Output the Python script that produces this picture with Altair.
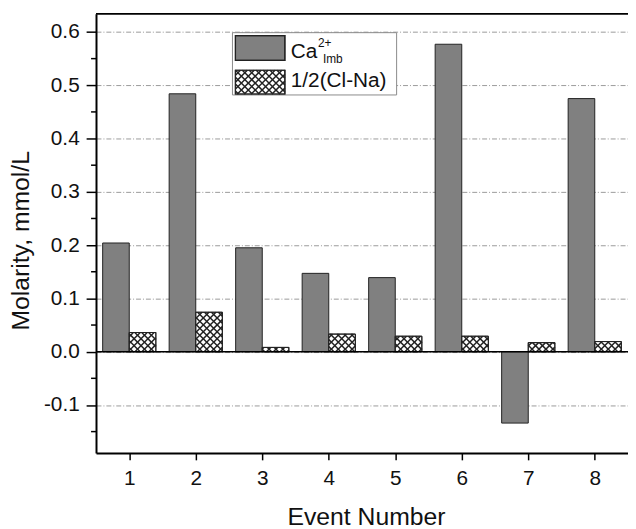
import math
import altair as alt
import pandas as pd

# ---------------- data ----------------
events = [1, 2, 3, 4, 5, 6, 7, 8]
ca_imb = [0.204, 0.484, 0.195, 0.147, 0.139, 0.577, -0.134, 0.475]
half_cl_na = [0.036, 0.074, 0.008, 0.033, 0.029, 0.029, 0.017, 0.019]
y_major = [-0.1, 0.0, 0.1, 0.2, 0.3, 0.4, 0.5, 0.6]
y_minor = [-0.15, -0.05, 0.05, 0.15, 0.25, 0.35, 0.45, 0.55]
series_names = ["Ca2+ Imb", "1/2(Cl-Na)"]

# ---------------- layout ----------------
W, H = 538, 444
X_DOM = [0.5, 8.5]
Y_DOM = [-0.19, 0.634]
BAR_W = 0.4
FONT = "Liberation Sans"
HATCH_P = 7.0

KX = W / (X_DOM[1] - X_DOM[0])
KY = H / (Y_DOM[1] - Y_DOM[0])

# bar table
rows = []
for e, a, b in zip(events, ca_imb, half_cl_na):
    rows.append({"event": e, "series": series_names[0], "x0": e - BAR_W, "x1": e, "v": a})
    rows.append({"event": e, "series": series_names[1], "x0": e, "x1": e + BAR_W, "v": b})
bars = pd.DataFrame(rows)
hatched = bars[bars["series"] == series_names[1]]


def hatch_segments(xa, xb, ya, yb, p=HATCH_P):
    """cross-hatch segments clipped to the pixel rectangle [xa,xb]x[ya,yb]"""
    segs = []
    for k in range(math.floor((xa - yb) / p) - 1, math.ceil((xb - ya) / p) + 2):
        c = k * p
        lo, hi = max(xa, ya + c), min(xb, yb + c)
        if hi - lo > 0.01:
            segs.append((lo, lo - c, hi, hi - c))
    for k in range(math.floor((xa + ya) / p) - 1, math.ceil((xb + yb) / p) + 2):
        c = k * p
        lo, hi = max(xa, c - yb), min(xb, c - ya)
        if hi - lo > 0.01:
            segs.append((lo, c - lo, hi, c - hi))
    return segs


# hatch lines for the bars, computed in pixel space and mapped back to data units
hrows = []
for _, r in hatched.iterrows():
    xa = (r["x0"] - X_DOM[0]) * KX
    xb = (r["x1"] - X_DOM[0]) * KX
    ya = (0 - Y_DOM[0]) * KY
    yb = (r["v"] - Y_DOM[0]) * KY
    ya, yb = min(ya, yb), max(ya, yb)
    for (x1, y1, x2, y2) in hatch_segments(xa, xb, ya, yb):
        hrows.append({
            "hx": X_DOM[0] + x1 / KX, "hy": Y_DOM[0] + y1 / KY,
            "hx2": X_DOM[0] + x2 / KX, "hy2": Y_DOM[0] + y2 / KY,
        })
hatch = pd.DataFrame(hrows)

# legend (pixel positions inside the plot area)
LB = {"x0": 138, "x1": 304, "y0": 19, "y1": 82}
sw = pd.DataFrame({
    "px0": [141, 141], "px1": [191, 191],
    "py0": [22, 57], "py1": [47, 81],
    "fill": ["#808080", "#ffffff"],
})
lh = []
for (x1, y1, x2, y2) in hatch_segments(141, 191, 57, 81):
    lh.append({"px": x1, "py": y1, "px2": x2, "py2": y2})
leg_hatch = pd.DataFrame(lh)
leg_text = pd.DataFrame({
    "t": ["Ca", "2+", "Imb", "1/2(Cl-Na)"],
    "px": [197, 224.5, 229.5, 197],
    "py": [45, 33, 49.5, 73.5],
    "fs": [21, 12, 12, 21],
})

one = pd.DataFrame({"a": [0]})
minor = pd.DataFrame({"v": y_minor})

xscale = alt.Scale(domain=X_DOM, nice=False, zero=False)
yscale = alt.Scale(domain=Y_DOM, nice=False, zero=False)

label_expr = "datum.value < 0 ? '-' + format(-datum.value, '.1f') : format(datum.value, '.1f')"

bar_layer = alt.Chart(bars).mark_bar(stroke="#222222", strokeWidth=1).encode(
    x=alt.X("x0:Q", scale=xscale,
            axis=alt.Axis(values=events, format="d", title="Event Number",
                          tickSize=7, labelPadding=8, titleX=273, titleY=72,
                          titleBaseline="alphabetic", titleAlign="center",
                          grid=False)),
    x2="x1:Q",
    y=alt.Y("v:Q", scale=yscale,
            axis=alt.Axis(values=y_major, labelExpr=label_expr,
                          title="Molarity, mmol/L", tickSize=10, labelPadding=7,
                          titleX=-68.5, titleY=229, titleAngle=-90,
                          titleBaseline="alphabetic", titleAlign="center",
                          grid=True, gridDash=[5, 2, 1, 2], gridColor="#9a9a9a",
                          gridWidth=1)),
    y2=alt.datum(0),
    color=alt.Color("series:N", scale=alt.Scale(domain=series_names,
                                                range=["#808080", "#ffffff"]),
                    legend=None),
)

hatch_layer = alt.Chart(hatch).mark_rule(color="#222222", strokeWidth=1.5).encode(
    x=alt.X("hx:Q", scale=xscale), x2="hx2:Q",
    y=alt.Y("hy:Q", scale=yscale), y2="hy2:Q",
)

outline_layer = alt.Chart(hatched).mark_bar(fillOpacity=0, stroke="#222222",
                                            strokeWidth=1).encode(
    x=alt.X("x0:Q", scale=xscale), x2="x1:Q",
    y=alt.Y("v:Q", scale=yscale), y2=alt.datum(0),
)

zero_line = alt.Chart(one).mark_rule(color="#000000", strokeWidth=1.6).encode(
    y=alt.datum(0), x=alt.value(0), x2=alt.value(W),
)

top_line = alt.Chart(one).mark_rule(color="#000000", strokeWidth=2).encode(
    y=alt.value(0), x=alt.value(0), x2=alt.value(W),
)

minor_ticks = alt.Chart(minor).mark_rule(color="#000000", strokeWidth=1.5).encode(
    y=alt.Y("v:Q", scale=yscale), x=alt.value(-5), x2=alt.value(0),
)

legend_box = alt.Chart(one).mark_rect(fill="#ffffff", stroke="#8a8a8a",
                                      strokeWidth=1).encode(
    x=alt.value(LB["x0"]), x2=alt.value(LB["x1"]),
    y=alt.value(LB["y0"]), y2=alt.value(LB["y1"]),
)

legend_sw = alt.Chart(sw).mark_rect(stroke="#222222", strokeWidth=1.2).encode(
    x=alt.X("px0:Q", scale=None), x2="px1:Q",
    y=alt.Y("py0:Q", scale=None), y2="py1:Q",
    fill=alt.Fill("fill:N", scale=None),
)

legend_h = alt.Chart(leg_hatch).mark_rule(color="#222222", strokeWidth=1.5).encode(
    x=alt.X("px:Q", scale=None), x2="px2:Q",
    y=alt.Y("py:Q", scale=None), y2="py2:Q",
)

legend_sw_outline = alt.Chart(sw).mark_rect(fillOpacity=0, stroke="#222222",
                                            strokeWidth=1.2).encode(
    x=alt.X("px0:Q", scale=None), x2="px1:Q",
    y=alt.Y("py0:Q", scale=None), y2="py1:Q",
)

legend_txt = alt.Chart(leg_text).mark_text(align="left", baseline="alphabetic",
                                           font=FONT, color="#111111").encode(
    x=alt.X("px:Q", scale=None), y=alt.Y("py:Q", scale=None),
    text="t:N", size=alt.Size("fs:Q", scale=None),
)

chart = alt.layer(
    bar_layer, hatch_layer, outline_layer, zero_line, top_line, minor_ticks,
    legend_box, legend_sw, legend_h, legend_sw_outline, legend_txt,
).properties(
    width=W, height=H,
    autosize=alt.AutoSizeParams(type="none"),
    padding={"left": 89, "top": 3, "right": 0, "bottom": 74},
).configure_view(stroke=None).configure_axis(
    domainColor="#000000", domainWidth=2, tickColor="#000000", tickWidth=1.5,
    labelFont=FONT, labelFontSize=21, labelColor="#111111",
    titleFont=FONT, titleFontSize=25, titleFontWeight="normal", titleColor="#111111",
)

chart.save("out.html", embed_options={"renderer": "svg", "actions": False})
